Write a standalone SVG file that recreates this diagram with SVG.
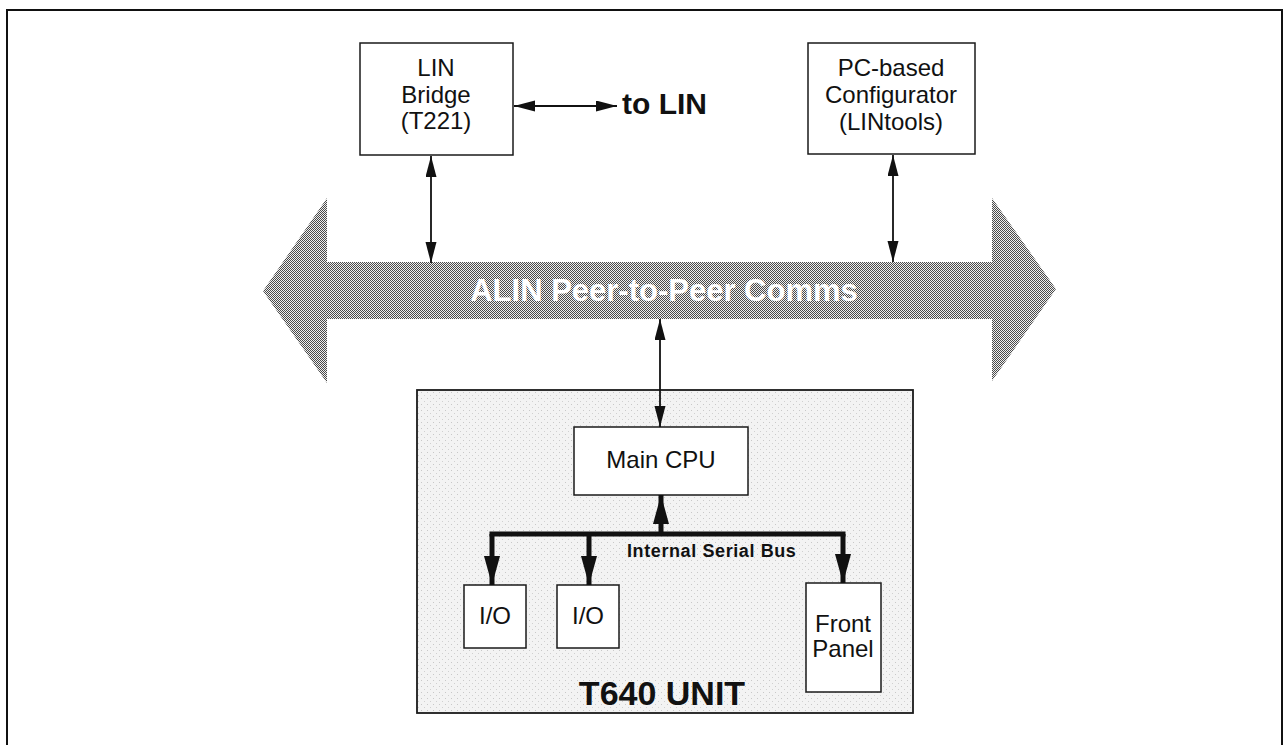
<svg xmlns="http://www.w3.org/2000/svg" width="1287" height="745" viewBox="0 0 1287 745">
<style>
  .box { fill: #ffffff; stroke: #1a1a1a; stroke-width: 1.5; }
  .lbl { font-family: "Liberation Sans", Arial, sans-serif; font-size: 24px; fill: #111; text-anchor: middle; }
  .bold { font-family: "Liberation Sans", Arial, sans-serif; font-weight: bold; fill: #111; }
  .thin { stroke: #111; stroke-width: 1.8; fill: none; }
  .thick { stroke: #111; stroke-width: 5; fill: none; }
</style>
<defs>
  <pattern id="dither" width="2" height="2" patternUnits="userSpaceOnUse">
    <rect width="2" height="2" fill="#efefef"/>
    <rect x="0" y="0" width="1" height="1" fill="#4a4a4a"/>
    <rect x="1" y="1" width="1" height="1" fill="#4a4a4a"/>
  </pattern>
  <pattern id="speckle" width="6" height="6" patternUnits="userSpaceOnUse">
    <rect width="6" height="6" fill="#f3f3f3"/>
    <rect x="1" y="2" width="1" height="1" fill="#c8c8c8"/>
    <rect x="4" y="5" width="1" height="1" fill="#d0d0d0"/>
  </pattern>
  <marker id="ah" markerUnits="userSpaceOnUse" markerWidth="22" markerHeight="12" refX="21" refY="5.5" orient="auto-start-reverse">
    <path d="M0,0 L21,5.5 L0,11 z" fill="#111"/>
  </marker>
  <marker id="ahb" markerUnits="userSpaceOnUse" markerWidth="30" markerHeight="16" refX="29" refY="8" orient="auto-start-reverse">
    <path d="M0,0 L29,8 L0,16 z" fill="#111"/>
  </marker>
</defs>
<rect width="1287" height="745" fill="#ffffff"/>
<path d="M7,745 L7,10 L1282,10 L1282,745" fill="none" stroke="#111" stroke-width="2"/>

<g id="alin-bus">
  <polygon points="263,291 327,198 327,262 992,262 992,198 1056,289 992,381 992,319 327,319 327,383" fill="url(#dither)"/>
  <text x="664" y="301" class="bold" font-size="31" style="fill:#ffffff" text-anchor="middle">ALIN Peer-to-Peer Comms</text>
</g>

<g id="t640">
  <rect x="417" y="390" width="496" height="323" fill="url(#speckle)" stroke="#1a1a1a" stroke-width="1.8"/>
  <text x="662" y="705" class="bold" font-size="34" text-anchor="middle">T640 UNIT</text>
</g>

<g id="lin-bridge">
  <rect class="box" x="360" y="43" width="153" height="112"/>
  <text class="lbl" x="436" y="76">LIN</text>
  <text class="lbl" x="436" y="103">Bridge</text>
  <text class="lbl" x="436" y="129">(T221)</text>
</g>

<g id="to-lin">
  <text x="622" y="114" class="bold" font-size="30">to LIN</text>
</g>

<g id="configurator">
  <rect class="box" x="808" y="43" width="167" height="111"/>
  <text class="lbl" x="891" y="76">PC-based</text>
  <text class="lbl" x="891" y="103">Configurator</text>
  <text class="lbl" x="891" y="130">(LINtools)</text>
</g>

<g id="main-cpu">
  <rect class="box" x="574" y="427" width="174" height="68"/>
  <text class="lbl" x="661" y="468" font-size="25">Main CPU</text>
</g>

<g id="io1">
  <rect class="box" x="464" y="585" width="62" height="63"/>
  <text class="lbl" x="495" y="624">I/O</text>
</g>

<g id="io2">
  <rect class="box" x="557" y="585" width="62" height="63"/>
  <text class="lbl" x="588" y="624">I/O</text>
</g>

<g id="front-panel">
  <rect class="box" x="806" y="583" width="75" height="109"/>
  <text class="lbl" x="843" y="632">Front</text>
  <text class="lbl" x="843" y="657">Panel</text>
</g>

<g id="bus-label">
  <text x="627" y="557" class="bold" font-size="18" letter-spacing="0.6">Internal Serial Bus</text>
</g>

<g id="connectors">
  <line class="thin" x1="514" y1="106" x2="617" y2="106" marker-start="url(#ah)" marker-end="url(#ah)"/>
  <line class="thin" x1="431" y1="156" x2="431" y2="263" marker-start="url(#ah)" marker-end="url(#ah)"/>
  <line class="thin" x1="893" y1="155" x2="893" y2="262" marker-start="url(#ah)" marker-end="url(#ah)"/>
  <line class="thin" x1="660" y1="319" x2="660" y2="427" marker-start="url(#ah)" marker-end="url(#ah)"/>
  <line class="thick" x1="492" y1="534" x2="843" y2="534" stroke-linecap="square"/>
  <line class="thick" x1="661" y1="534" x2="661" y2="495" marker-end="url(#ahb)"/>
  <line class="thick" x1="492" y1="534" x2="492" y2="585" marker-end="url(#ahb)"/>
  <line class="thick" x1="589" y1="534" x2="589" y2="585" marker-end="url(#ahb)"/>
  <line class="thick" x1="843" y1="534" x2="843" y2="583" marker-end="url(#ahb)"/>
</g>
</svg>
